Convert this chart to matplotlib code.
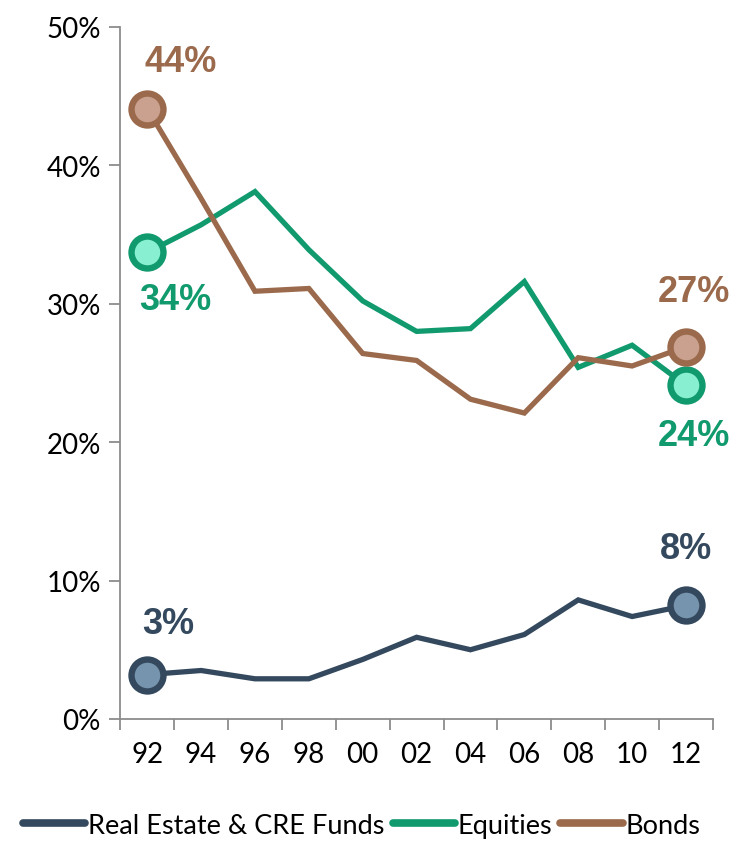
import numpy as np
import matplotlib.pyplot as plt
from matplotlib.ticker import FuncFormatter

years = ['92', '94', '96', '98', '00', '02', '04', '06', '08', '10', '12']
real_estate = [3.2, 3.5, 2.9, 2.9, 4.3, 5.9, 5.0, 6.1, 8.6, 7.4, 8.2]
equities = [33.7, 35.7, 38.1, 33.9, 30.2, 28.0, 28.2, 31.6, 25.4, 27.0, 24.1]
bonds = [44.1, 37.6, 30.9, 31.1, 26.4, 25.9, 23.1, 22.1, 26.1, 25.5, 26.9]

series = [
    ('Real Estate & CRE Funds', real_estate, '#34495e', '#7694ad'),
    ('Equities', equities, '#119a6e', '#88f0d0'),
    ('Bonds', bonds, '#9b6a4c', '#c9a18e'),
]

fig = plt.figure(figsize=(7.38, 8.45), dpi=100)
ax = fig.add_axes([0.163, 0.148, 0.803, 0.819])
x = np.arange(len(years))

for name, vals, col, fill in series:
    ax.plot(x, vals, color=col, lw=3.8, label=name, solid_capstyle='round',
            solid_joinstyle='miter', zorder=3)
    # end point markers
    ax.plot([x[0], x[-1]], [vals[0], vals[-1]], ls='none', marker='o',
            ms=23, mfc=fill, mec=col, mew=4.6, zorder=4)

lab = dict(fontsize=26, fontweight='bold', family='Liberation Sans',
           ha='center', va='center')
ax.text(x[0] + 0.63, bonds[0] + 3.4, '44%', color='#9b6a4c', **lab)
ax.text(x[0] + 0.52, equities[0] - 3.4, '34%', color='#119a6e', **lab)
ax.text(x[-1] + 0.15, bonds[-1] + 4.0, '27%', color='#9b6a4c', **lab)
ax.text(x[-1] + 0.15, equities[-1] - 3.6, '24%', color='#119a6e', **lab)
ax.text(x[0] + 0.39, real_estate[0] + 3.7, '3%', color='#34495e', **lab)
ax.text(x[-1], real_estate[-1] + 4.1, '8%', color='#34495e', **lab)

ax.set_xlim(-0.5, len(years) - 0.5)
ax.set_ylim(0, 50)
ax.set_yticks(np.arange(0, 51, 10))
ax.yaxis.set_major_formatter(FuncFormatter(lambda v, p: f'{v:.0f}%'))
ax.set_xticks(x)
ax.set_xticklabels(years)
ax.set_xticks(np.arange(-0.5, len(years), 1), minor=True)
ax.tick_params(axis='x', which='major', length=0, pad=16)
ax.tick_params(axis='x', which='minor', length=8, color='#8c8c8c', width=1.3)
ax.tick_params(axis='y', length=8, color='#8c8c8c', width=1.3, pad=6)
for lbl in ax.get_xticklabels() + ax.get_yticklabels():
    lbl.set_fontsize(20)
    lbl.set_family('Lato')

for s in ['top', 'right']:
    ax.spines[s].set_visible(False)
for s in ['left', 'bottom']:
    ax.spines[s].set_color('#8c8c8c')
    ax.spines[s].set_linewidth(1.3)

handles = [plt.Line2D([], [], color=c, lw=5.5, solid_capstyle='round') for _, _, c, _ in series]
fig.legend(handles, [s[0] for s in series], loc='center', ncol=3,
           bbox_to_anchor=(0.49, 0.022), frameon=False, handlelength=2.3,
           handletextpad=0.1, columnspacing=0.3, prop={'family': 'Lato', 'size': 19.5})

fig.savefig('out.png', dpi=100)
